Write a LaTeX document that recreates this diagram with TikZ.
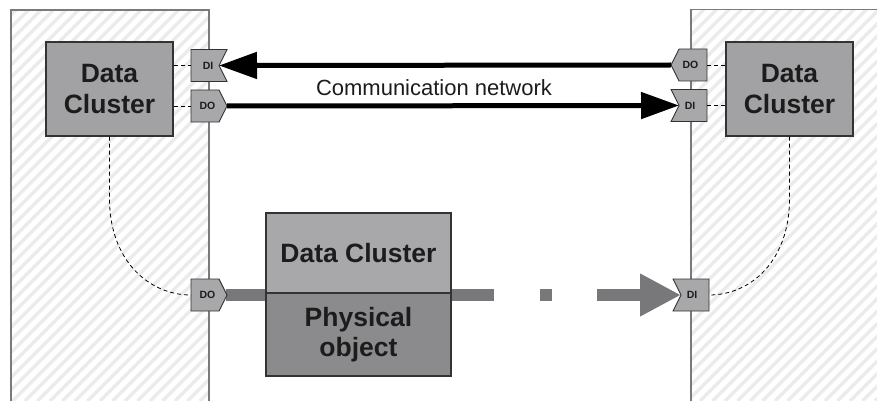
\documentclass[tikz,border=0pt]{standalone}
\usepackage{fontspec}
\setmainfont{Liberation Sans}
\usetikzlibrary{arrows.meta}

\definecolor{panelline}{HTML}{7A7A7A}
\definecolor{hatchgray}{HTML}{EBEBEB}
\definecolor{clusterfill}{HTML}{A2A2A4}
\definecolor{portfill}{HTML}{A8A8AA}
\definecolor{midtop}{HTML}{A8A8AA}
\definecolor{midbot}{HTML}{8B8B8D}
\definecolor{edgedark}{HTML}{333333}
\definecolor{inkdark}{HTML}{1C1C1C}
\definecolor{flowgray}{HTML}{78787A}

\tikzset{
  panel/.style={draw=panelline, line width=1.4pt},
  hatch/.style={draw=hatchgray, line width=3.5pt},
  cluster/.style={draw=edgedark, line width=1.3pt, fill=clusterfill, text=inkdark,
    align=center, font=\bfseries\fontsize{26.5}{31}\selectfont, inner sep=0pt},
  midbox/.style={draw=edgedark, line width=1.3pt, text=inkdark, align=center,
    font=\bfseries\fontsize{26.5}{30}\selectfont, inner sep=0pt,
    minimum width=185, anchor=center},
  portshape/.style={draw=edgedark, line width=0.9pt, fill=portfill, line join=miter},
  portlabel/.style={font=\bfseries\fontsize{10.5}{11}\selectfont, text=inkdark, inner sep=0pt},
  link/.style={draw=black, line width=0.8pt, dash pattern=on 4pt off 3pt},
  netarrow/.style={draw=black, line width=5pt, -{Triangle[length=38pt,width=26pt]}},
  flow/.style={draw=flowgray, line width=12pt},
  flowarrow/.style={draw=flowgray, line width=12pt, -{Triangle[length=41pt,width=40pt]}},
  % output port, pointing right
  pics/outright/.style={code={
    \draw[portshape] (-18,-16) -- (10,-16) -- (18,0) -- (10,16) -- (-18,16) -- cycle;
    \node[portlabel] (-lbl) at (-1.5,0) {DO};
    \coordinate (-tip) at (18,0);
    \coordinate (-back) at (-18,0);}},
  % input port, notch on the right
  pics/inright/.style={code={
    \draw[portshape] (-18,-16) -- (18,-16) -- (10,0) -- (18,16) -- (-18,16) -- cycle;
    \node[portlabel] (-lbl) at (-1,0) {DI};
    \coordinate (-tip) at (10,0);
    \coordinate (-back) at (-18,0);}},
  % output port, pointing left
  pics/outleft/.style={code={
    \draw[portshape] (18,-16) -- (-10,-16) -- (-18,0) -- (-10,16) -- (18,16) -- cycle;
    \node[portlabel] (-lbl) at (1.5,0) {DO};
    \coordinate (-tip) at (-18,0);
    \coordinate (-back) at (18,0);}},
  % input port, notch on the left
  pics/inleft/.style={code={
    \draw[portshape] (18,-16) -- (-18,-16) -- (-10,0) -- (-18,16) -- (18,16) -- cycle;
    \node[portlabel] (-lbl) at (1,0) {DI};
    \coordinate (-tip) at (-10,0);
    \coordinate (-back) at (18,0);}},
}

\begin{document}
\begin{tikzpicture}[x=1pt, y=-1pt]
\useasboundingbox (0,0) rectangle (877,401);

% hatched background of the two stations
\begin{scope}
  \clip (11,10) rectangle (209,401) (691,9.5) rectangle (877,401);
  \foreach \k in {0,...,104}
    \draw[hatch] ({-400+\k*12.5},401) -- ++(420,-420);
\end{scope}
\draw[panel] (11,401) -- (11,10) -- (209,10) -- (209,401);
\draw[panel] (691,401) -- (691,9.5) -- (877,9.5);

% data clusters of the stations
\node[cluster, minimum width=127, minimum height=94] (dcL) at (109.5,89) {Data\\Cluster};
\node[cluster, minimum width=127, minimum height=94] (dcR) at (789.5,89) {Data\\Cluster};

% moving object
\node[midbox, fill=midtop, minimum height=80] (mTop) at (358.5,253) {Data Cluster};
\node[midbox, fill=midbot, minimum height=83] (mBot) at (358.5,334.5) {Physical\\object};

% communication label
\node[font=\fontsize{22}{24}\selectfont, text=inkdark, inner sep=0pt] (net) at (434,88) {Communication network};

% flow of the physical object (drawn before the ports)
\coordinate (g1) at (494,295);
\coordinate (g2) at (540,295);
\coordinate (g3) at (552,295);
\coordinate (g4) at (597,295);
\draw[flow] (226,295) -- (mTop.west |- g1);
\draw[flow] (mTop.east |- g1) -- (g1);
\draw[flow] (g2) -- (g3);

% ports
\pic (pLi) at (209,65.5) {inright};
\pic (pLo) at (209,106) {outright};
\pic (pRo) at (689,65) {outleft};
\pic (pRi) at (689,105.5) {inleft};
\pic (pBo) at (209,295) {outright};
\pic (pBi) at (691,295) {inleft};

\draw[flowarrow] (g4) -- (pBi-tip);

% links between clusters and ports
\draw[link] (dcL.east |- pLi-back) -- (pLi-back);
\draw[link] (dcL.east |- pLo-back) -- (pLo-back);
\draw[link] (pRo-back) -- (dcR.west |- pRo-back);
\draw[link] (pRi-back) -- (dcR.west |- pRi-back);
\draw[link] (dcL.south) -- ++(0,62) .. controls +(0,62) and +(-42,0) .. (pBo-back);
\draw[link] (dcR.south) -- ++(0,62) .. controls +(0,62) and +(42,0) .. (pBi-back);

% network messages
\draw[netarrow] (pRo-tip) -- (pLi-tip);
\draw[netarrow] (pLo-tip) -- (pRi-tip);
\end{tikzpicture}
\end{document}
